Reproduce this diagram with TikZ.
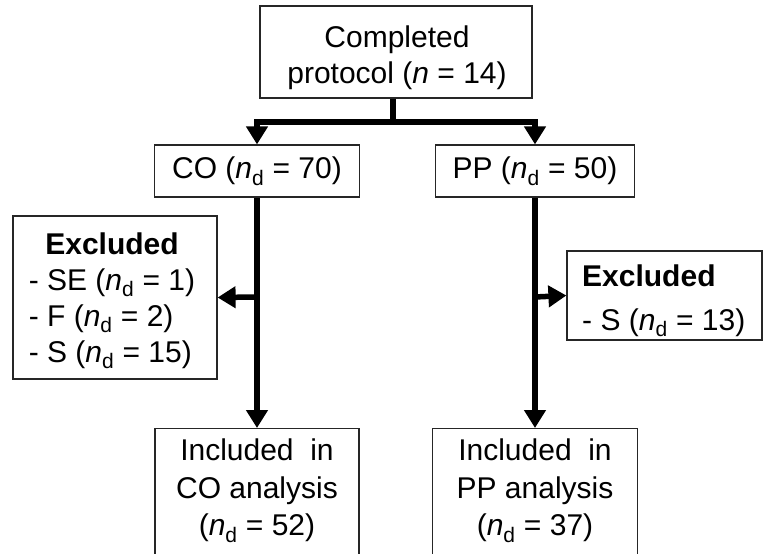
\documentclass[tikz,border=0pt]{standalone}
\usepackage{fontspec}
\setmainfont{Liberation Sans}
\usetikzlibrary{arrows.meta}
\tikzset{
  box/.style={draw=black!85, line width=1.2pt, inner sep=0pt, font=\fontsize{30}{36}\selectfont, align=center},
  txt/.style={inner sep=0pt, font=\fontsize{30}{36}\selectfont, align=center},
  flow/.style={line width=5.5pt, -{Triangle[width=21pt,length=18pt]}},
  stem/.style={line width=5.5pt}
}
\newcommand{\nd}{\textit{n}\textsubscript{d}}
\begin{document}
\begin{tikzpicture}[x=1pt,y=-1pt]
\useasboundingbox (0,0) rectangle (764,554);
\clip (0,0) rectangle (764,554);
\node[box, minimum width=272pt, minimum height=92pt] (top) at (396,52) {};
\node[txt] (ttop) at (397,58) {Completed\\protocol (\textit{n} = 14)};
\node[box, minimum width=205pt, minimum height=52pt] (co) at (257,171) {CO (\nd{} = 70)};
\node[box, minimum width=199pt, minimum height=52pt] (pp) at (535,171) {PP (\nd{} = 50)};
\node[box, minimum width=204pt, minimum height=163pt] (exl) at (115,297.5) {};
\node[txt] (texl) at (112,301)
  {\begin{tabular}{@{}l@{}}\multicolumn{1}{@{}c@{}}{\textbf{Excluded}}\\- SE (\nd{} = 1)\\- F (\nd{} = 2)\\- S (\nd{} = 15)\end{tabular}};
\node[box, minimum width=195pt, minimum height=89pt] (exr) at (664.5,295.5) {};
\node[txt, anchor=west] (texr) at (582,301)
  {\begin{tabular}{@{}l@{}}\textbf{Excluded}\\[8pt]- S (\nd{} = 13)\end{tabular}};
\node[box, minimum width=204pt, minimum height=150pt, anchor=north] (inco) at (257,428) {};
\node[box, minimum width=205pt, minimum height=150pt, anchor=north] (inpp) at (535,428) {};
\node[txt, font=\fontsize{30}{37.5}\selectfont, anchor=north] (tco) at (257,439) {Included\ \ in\\CO analysis\\(\nd{} = 52)};
\node[txt, font=\fontsize{30}{37.5}\selectfont, anchor=north] (tpp) at (535,439) {Included\ \ in\\PP analysis\\(\nd{} = 37)};
\coordinate (split) at (393,122);
\coordinate (bl) at (257,297);
\coordinate (br) at (535,297);
\draw[stem] (top.south -| split) -- (split);
\draw[flow] (split) -| (co.north);
\draw[flow] (split) -| (pp.north);
\draw[flow] (co.south) -- (inco.north);
\draw[flow] (pp.south) -- (inpp.north);
\draw[flow] (bl) -- (exl.east);
\draw[flow] (br) -- (exr.west);
\end{tikzpicture}
\end{document}
